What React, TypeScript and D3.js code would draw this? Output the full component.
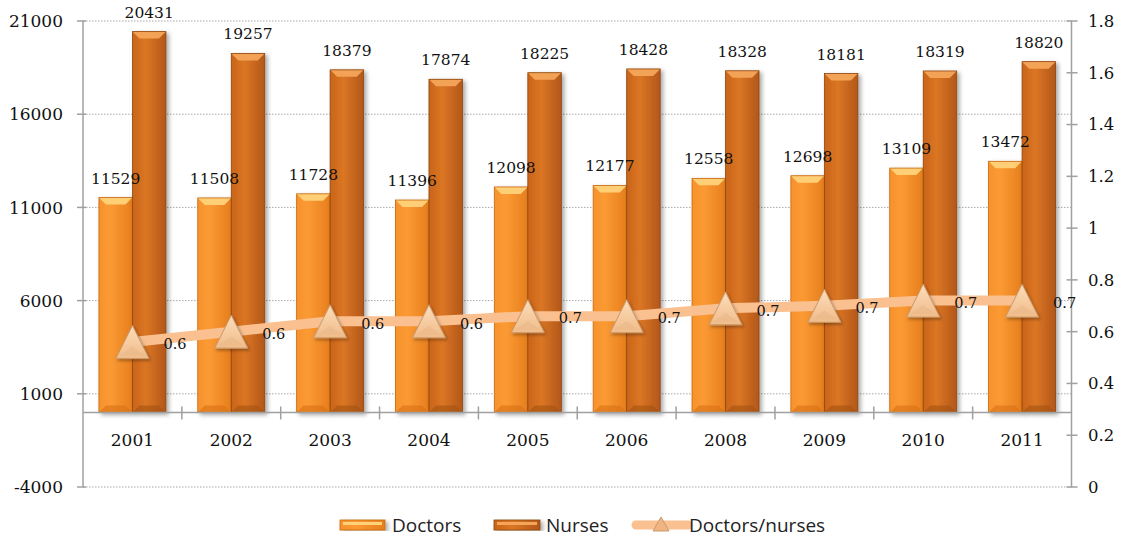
import React from "react";
import * as d3 from "d3";

const categories = ["2001", "2002", "2003", "2004", "2005", "2006", "2008", "2009", "2010", "2011"];
const doctors = [11529, 11508, 11728, 11396, 12098, 12177, 12558, 12698, 13109, 13472];
const nurses = [20431, 19257, 18379, 17874, 18225, 18428, 18328, 18181, 18319, 18820];
const ratio = [0.56, 0.6, 0.64, 0.64, 0.66, 0.66, 0.69, 0.7, 0.72, 0.72];
const ratioLabels = ["0.6", "0.6", "0.6", "0.6", "0.7", "0.7", "0.7", "0.7", "0.7", "0.7"];
const leftTicks = [-4000, 1000, 6000, 11000, 16000, 21000];
const rightTicks = [0, 0.2, 0.4, 0.6, 0.8, 1, 1.2, 1.4, 1.6, 1.8];

const W = 1123, H = 539;
const X0 = 83, X1 = 1071.5, YT = 21, YB = 487;
const BW = 33.5;
const SERIF = "'DejaVu Serif', serif";

export default function App() {
  const x = d3.scaleBand<string>().domain(categories).range([X0, X1]).padding(0);
  const yL = d3.scaleLinear().domain([-4000, 21000]).range([YB, YT]);
  const yR = d3.scaleLinear().domain([0, 1.8]).range([YB, YT]);
  const cx = (c: string) => (x(c) as number) + x.bandwidth() / 2;
  const y0 = yL(0);
  const line = d3.line<number>().x((_, i) => cx(categories[i])).y((d) => yR(d));

  const bar = (bx: number, v: number, kind: "d" | "n", key: string) => {
    const top = yL(v);
    const h = y0 - top;
    const bev = 7;
    return (
      <g key={key} filter="url(#shadow)">
        <rect x={bx} y={top} width={BW} height={h} fill={`url(#grad-${kind})`} />
        <path
          d={`M${bx},${top} L${bx + BW},${top} L${bx + BW - bev},${top + bev} L${bx + bev},${top + bev} Z`}
          fill={kind === "d" ? "#FFD27A" : "#F4A55A"}
          opacity={0.95}
        />
        <path
          d={`M${bx},${y0} L${bx + BW},${y0} L${bx + BW - bev},${y0 - bev} L${bx + bev},${y0 - bev} Z`}
          fill={kind === "d" ? "#D96F14" : "#A4520F"}
          opacity={0.6}
        />
        <rect x={bx} y={top} width={BW} height={h} fill="none" stroke={kind === "d" ? "#C8680F" : "#8E460C"} strokeWidth={0.8} />
      </g>
    );
  };

  const tri = (px: number, py: number, s: number, key: string) => {
    const hh = s;
    return (
      <g key={key} filter="url(#shadow2)">
        <path
          d={`M${px},${py - hh / 2} L${px + s / 2},${py + hh / 2} L${px - s / 2},${py + hh / 2} Z`}
          fill="url(#grad-tri)"
          stroke="#C99A6E"
          strokeWidth={1}
        />
        <path
          d={`M${px - s / 2 + 4},${py + hh / 2 - 3} L${px + s / 2 - 4},${py + hh / 2 - 3} L${px},${py + hh / 2 - 12} Z`}
          fill="#E7B88A"
          opacity={0.55}
        />
      </g>
    );
  };

  return (
    <svg width={W} height={H} style={{ position: "absolute", left: 0, top: 0, background: "#fff" }}>
      <defs>
        <linearGradient id="grad-d" x1="0" x2="1" y1="0" y2="0">
          <stop offset="0" stopColor="#F7922C" />
          <stop offset="0.35" stopColor="#FB9A34" />
          <stop offset="1" stopColor="#E67E1C" />
        </linearGradient>
        <linearGradient id="grad-n" x1="0" x2="1" y1="0" y2="0">
          <stop offset="0" stopColor="#C9641A" />
          <stop offset="0.4" stopColor="#DB7624" />
          <stop offset="1" stopColor="#B2571A" />
        </linearGradient>
        <linearGradient id="grad-tri" x1="0" x2="0" y1="0" y2="1">
          <stop offset="0" stopColor="#FCDDBB" />
          <stop offset="1" stopColor="#F1BC89" />
        </linearGradient>
        <filter id="shadow" x="-20%" y="-5%" width="150%" height="115%">
          <feDropShadow dx="2.5" dy="2" stdDeviation="2" floodColor="#000" floodOpacity="0.35" />
        </filter>
        <filter id="shadow2" x="-30%" y="-30%" width="170%" height="170%">
          <feDropShadow dx="1.5" dy="2" stdDeviation="1.5" floodColor="#000" floodOpacity="0.3" />
        </filter>
      </defs>

      {/* gridlines */}
      {leftTicks.map((t) => (
        <line key={"g" + t} x1={X0} x2={X1} y1={yL(t)} y2={yL(t)} stroke="#A8A8A8" strokeWidth={1} strokeDasharray="1.5,1.5" />
      ))}

      {/* left axis */}
      <line x1={X0} x2={X0} y1={YT} y2={YB} stroke="#A0A0A0" strokeWidth={1.5} />
      {leftTicks.map((t) => (
        <g key={"lt" + t}>
          <line x1={X0 - 6} x2={X0 + 3} y1={yL(t)} y2={yL(t)} stroke="#A0A0A0" strokeWidth={1.5} />
          <text x={63} y={yL(t)} dy="0.36em" textAnchor="end" fontFamily={SERIF} fontSize={17} fill="#111">
            {t}
          </text>
        </g>
      ))}

      {/* right axis */}
      <line x1={X1} x2={X1} y1={YT} y2={YB} stroke="#A0A0A0" strokeWidth={1.5} />
      {rightTicks.map((t) => (
        <g key={"rt" + t}>
          <line x1={X1 - 5} x2={X1 + 6} y1={yR(t)} y2={yR(t)} stroke="#A0A0A0" strokeWidth={1.5} />
          <text x={1088} y={yR(t)} dy="0.36em" textAnchor="start" fontFamily={SERIF} fontSize={16.5} fill="#111">
            {d3.format("~g")(t)}
          </text>
        </g>
      ))}

      {/* bars */}
      {categories.map((c, i) => (
        <g key={"b" + c}>
          {bar(cx(c) - BW, doctors[i], "d", "d" + c)}
          {bar(cx(c), nurses[i], "n", "n" + c)}
        </g>
      ))}

      {/* category axis */}
      <line x1={X0} x2={X1} y1={y0} y2={y0} stroke="#A0A0A0" strokeWidth={1.5} />
      {categories.slice(1).map((c) => (
        <line key={"ct" + c} x1={x(c) as number} x2={x(c) as number} y1={y0 - 6} y2={y0 + 7} stroke="#A0A0A0" strokeWidth={1.5} />
      ))}
      {categories.map((c) => (
        <text key={"cl" + c} x={cx(c)} y={440} dy="0.36em" textAnchor="middle" fontFamily={SERIF} fontSize={17} fill="#111">
          {c}
        </text>
      ))}

      {/* value labels */}
      {categories.map((c, i) => (
        <g key={"vl" + c}>
          <text x={cx(c) - BW / 2} y={yL(doctors[i]) - 14} textAnchor="middle" fontFamily={SERIF} fontSize={15.5} fill="#111">
            {doctors[i]}
          </text>
          <text x={cx(c) + BW / 2} y={yL(nurses[i]) - 14} textAnchor="middle" fontFamily={SERIF} fontSize={15.5} fill="#111">
            {nurses[i]}
          </text>
        </g>
      ))}

      {/* ratio line */}
      <path d={line(ratio) as string} fill="none" stroke="#FAC090" strokeWidth={10} />
      {categories.map((c, i) => tri(cx(c), yR(ratio[i]), 33, "t" + c))}
      {categories.map((c, i) => (
        <text key={"rl" + c} x={cx(c) + 31} y={yR(ratio[i]) + 2} dy="0.36em" textAnchor="start" fontFamily={SERIF} fontSize={14.5} fill="#111">
          {ratioLabels[i]}
        </text>
      ))}

      {/* legend */}
      <g fontFamily="'Open Sans', sans-serif" fontSize={19} fill="#222">
        <g filter="url(#shadow)">
          <rect x={340} y={520} width={45} height={10} fill="url(#grad-d)" stroke="#C8680F" strokeWidth={0.8} />
          <rect x={343} y={522} width={39} height={3} fill="#FFD27A" />
        </g>
        <text x={392} y={525} dy="0.36em">Doctors</text>
        <g filter="url(#shadow)">
          <rect x={494} y={520} width={46} height={10} fill="url(#grad-n)" stroke="#8E460C" strokeWidth={0.8} />
          <rect x={497} y={522} width={40} height={3} fill="#F4A55A" />
        </g>
        <text x={546} y={525} dy="0.36em">Nurses</text>
        <line x1={636} x2={688} y1={525} y2={525} stroke="#FAC090" strokeWidth={9} strokeLinecap="round" />
        <path d="M661,517 L669,531 L653,531 Z" fill="#EFB482" stroke="#C99A6E" strokeWidth={1} />
        <text x={689} y={525} dy="0.36em">Doctors/nurses</text>
      </g>
    </svg>
  );
}
